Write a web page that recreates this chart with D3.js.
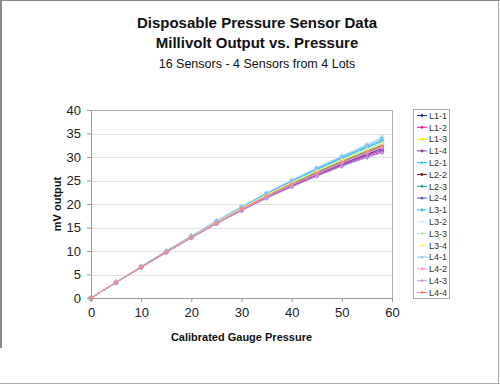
<!DOCTYPE html>
<html>
<head>
<meta charset="utf-8">
<script src="https://cdn.jsdelivr.net/npm/d3@7"></script>
<style>
	body { margin: 0; background: #fff; }
	svg { display: block; font-family: "Liberation Sans", Arial, sans-serif; }
</style>
</head>
<body>
<svg id="chart" width="500" height="385"></svg>
<script>
// pressure points (x)
const pressures = [0, 5, 10, 15, 20, 25, 30, 35, 40, 45, 50, 55, 58];

const sensorNames = ["L1-1", "L1-2", "L1-3", "L1-4", "L2-1", "L2-2", "L2-3", "L2-4",
	"L3-1", "L3-2", "L3-3", "L3-4", "L4-1", "L4-2", "L4-3", "L4-4"];

// mV output per sensor
const l11 = [0, 3.3, 6.6, 9.8, 12.9, 15.9, 18.8, 21.5, 24.0, 26.4, 28.6, 30.6, 31.8];
const l12 = [0, 3.3, 6.6, 9.8, 12.9, 15.9, 18.7, 21.4, 23.8, 26.1, 28.3, 30.3, 31.4];
const l13 = [0, 3.3, 6.6, 9.9, 13.0, 16.1, 19.0, 21.8, 24.4, 26.9, 29.2, 31.4, 32.7];
const l14 = [0, 3.3, 6.5, 9.7, 12.8, 15.8, 18.6, 21.3, 23.7, 26.0, 28.1, 30.0, 31.1];
const l21 = [0, 3.3, 6.6, 9.9, 13.1, 16.2, 19.2, 22.1, 24.8, 27.3, 29.7, 32.0, 33.3];
const l22 = [0, 3.3, 6.6, 9.8, 13.0, 16.0, 18.9, 21.6, 24.2, 26.6, 28.9, 31.0, 32.2];
const l23 = [0, 3.3, 6.6, 9.9, 13.0, 16.1, 19.0, 21.8, 24.4, 26.8, 29.1, 31.3, 32.5];
const l24 = [0, 3.3, 6.6, 9.8, 12.9, 15.9, 18.8, 21.5, 24.0, 26.3, 28.5, 30.5, 31.7];
const l31 = [0, 3.3, 6.7, 10.0, 13.2, 16.3, 19.3, 22.2, 24.9, 27.5, 29.9, 32.2, 33.6];
const l32 = [0, 3.4, 6.7, 10.0, 13.2, 16.4, 19.5, 22.4, 25.2, 27.8, 30.3, 32.7, 34.3];
const l33 = [0, 3.3, 6.6, 9.9, 13.1, 16.2, 19.1, 22.0, 24.6, 27.1, 29.5, 31.7, 33.0];
const l34 = [0, 3.3, 6.6, 9.9, 13.0, 16.1, 19.1, 21.9, 24.5, 27.0, 29.3, 31.5, 32.8];
const l41 = [0, 3.4, 6.7, 10.0, 13.2, 16.4, 19.4, 22.3, 25.0, 27.6, 30.1, 32.5, 34.0];
const l42 = [0, 3.3, 6.6, 9.8, 12.9, 15.9, 18.8, 21.5, 24.0, 26.4, 28.7, 30.8, 32.0];
const l43 = [0, 3.3, 6.5, 9.7, 12.8, 15.8, 18.6, 21.2, 23.6, 25.9, 28.0, 29.9, 30.9];
const l44 = [0, 3.3, 6.6, 9.8, 12.9, 16.0, 18.9, 21.7, 24.2, 26.6, 28.9, 31.1, 32.3];

const xTicks = [0, 10, 20, 30, 40, 50, 60];
const yTicks = [0, 5, 10, 15, 20, 25, 30, 35, 40];

const seriesValues = [l11, l12, l13, l14, l21, l22, l23, l24, l31, l32, l33, l34, l41, l42, l43, l44];
const colors = ["#1a1a80", "#ee1a99", "#f2e600", "#7a3fb0", "#1ac8f0", "#801a1a", "#1a9a9a", "#5555cc",
	"#33c0f5", "#c8f0f5", "#b8e8c8", "#fff07a", "#88bff0", "#f59ac8", "#c49ae8", "#f58a80"];
const shapes = [d3.symbolDiamond, d3.symbolSquare, d3.symbolTriangle, d3.symbolCross, d3.symbolStar,
	d3.symbolCircle, d3.symbolCross, d3.symbolSquare, d3.symbolDiamond, d3.symbolSquare, d3.symbolTriangle,
	d3.symbolCross, d3.symbolStar, d3.symbolCircle, d3.symbolCross, d3.symbolSquare];

const series = sensorNames.map((name, i) => ({
	name,
	color: colors[i],
	shape: shapes[i],
	points: pressures.map((p, j) => ({x: p, y: seriesValues[i][j]}))
}));

const svg = d3.select("#chart");
const margin = {top: 110, right: 108, bottom: 87, left: 91};
const width = 500 - margin.left - margin.right;
const height = 385 - margin.top - margin.bottom;

// outer frame
svg.append("line").attr("x1", 0).attr("x2", 500).attr("y1", 0.5).attr("y2", 0.5).attr("stroke", "#8a8a8a");
svg.append("line").attr("x1", 1).attr("x2", 1).attr("y1", 0).attr("y2", 348).attr("stroke", "#8a8a8a").attr("stroke-width", 2);
svg.append("line").attr("x1", 498.5).attr("x2", 498.5).attr("y1", 0).attr("y2", 384).attr("stroke", "#aaa");
svg.append("line").attr("x1", 0).attr("x2", 500).attr("y1", 383.5).attr("y2", 383.5).attr("stroke", "#aaa");

// titles
const titles = svg.append("g").attr("text-anchor", "middle").attr("fill", "#111");
titles.append("text").attr("x", 257).attr("y", 28).attr("font-size", 15).attr("font-weight", "bold")
.text("Disposable Pressure Sensor Data");
titles.append("text").attr("x", 257).attr("y", 48).attr("font-size", 15).attr("font-weight", "bold")
.text("Millivolt Output vs. Pressure");
titles.append("text").attr("x", 257).attr("y", 68).attr("font-size", 12.5)
.text("16 Sensors - 4 Sensors from 4 Lots");

const x = d3.scaleLinear().domain([0, 60]).range([0, width]);
const y = d3.scaleLinear().domain([0, 40]).range([height, 0]);

const g = svg.append("g").attr("transform", `translate(${margin.left}, ${margin.top})`);

// gridlines
g.append("g")
.selectAll("line")
.data(yTicks.slice(1))
.enter()
.append("line")
.attr("x1", 0)
.attr("x2", width)
.attr("y1", (d) => Math.round(y(d)) + 0.5)
.attr("y2", (d) => Math.round(y(d)) + 0.5)
.attr("stroke", "#e2e2e2");

g.append("rect")
.attr("x", 0.5).attr("y", 0.5)
.attr("width", width).attr("height", height)
.attr("fill", "none").attr("stroke", "#b0b0b0");

const xAxis = g.append("g")
.attr("transform", `translate(0, ${height})`)
.call(d3.axisBottom(x).tickValues(xTicks).tickSize(4).tickPadding(6));

const yAxis = g.append("g")
.call(d3.axisLeft(y).tickValues(yTicks).tickSize(4).tickPadding(6));

[xAxis, yAxis].forEach((ax) => {
	ax.select(".domain").attr("stroke", "#999");
	ax.selectAll(".tick line").attr("stroke", "#999");
	ax.selectAll(".tick text")
	.attr("font-size", 13)
	.attr("fill", "#222")
	.attr("font-family", "'Liberation Sans', Arial, sans-serif");
});

// axis titles
svg.append("text")
.attr("x", margin.left + width / 2)
.attr("y", 341)
.attr("text-anchor", "middle")
.attr("font-size", 11)
.attr("font-weight", "bold")
.attr("fill", "#111")
.text("Calibrated Gauge Pressure");

svg.append("text")
.attr("transform", `translate(61, ${margin.top + height / 2}) rotate(-90)`)
.attr("text-anchor", "middle")
.attr("font-size", 11)
.attr("font-weight", "bold")
.attr("fill", "#111")
.text("mV output");

// lines
const line = d3.line()
.x((d) => x(d.x))
.y((d) => y(d.y));

const sensor = g.selectAll(".sensor")
.data(series)
.enter()
.append("g")
.attr("class", "sensor");

sensor.append("path")
.attr("d", (d) => line(d.points))
.attr("fill", "none")
.attr("stroke", (d) => d.color)
.attr("stroke-width", 1);

sensor.selectAll(".marker")
.data((d) => d.points.map((p) => ({p, s: d})))
.enter()
.append("path")
.attr("class", "marker")
.attr("transform", ({p}) => `translate(${x(p.x)}, ${y(p.y)})`)
.attr("d", ({s}) => d3.symbol().type(s.shape).size(8)())
.attr("fill", ({s}) => s.color)
.attr("stroke", ({s}) => s.color)
.attr("stroke-width", 0.4);

// legend
const legend = svg.append("g").attr("transform", "translate(413, 109)");

legend.append("rect")
.attr("x", 0.5).attr("y", 0.5)
.attr("width", 36).attr("height", 189)
.attr("fill", "#fff")
.attr("stroke", "#aaa");

const item = legend.selectAll(".item")
.data(series)
.enter()
.append("g")
.attr("class", "item")
.attr("transform", (d, i) => `translate(0, ${6.5 + i * 11.8})`);

item.append("line")
.attr("x1", 4).attr("x2", 14)
.attr("stroke", (d) => d.color);

item.append("path")
.attr("transform", "translate(9, 0)")
.attr("d", (d) => d3.symbol().type(d.shape).size(6)())
.attr("fill", (d) => d.color);

item.append("text")
.attr("x", 16)
.attr("y", 3.3)
.attr("font-size", 9)
.attr("fill", "#333")
.text((d) => d.name);
</script>
</body>
</html>
